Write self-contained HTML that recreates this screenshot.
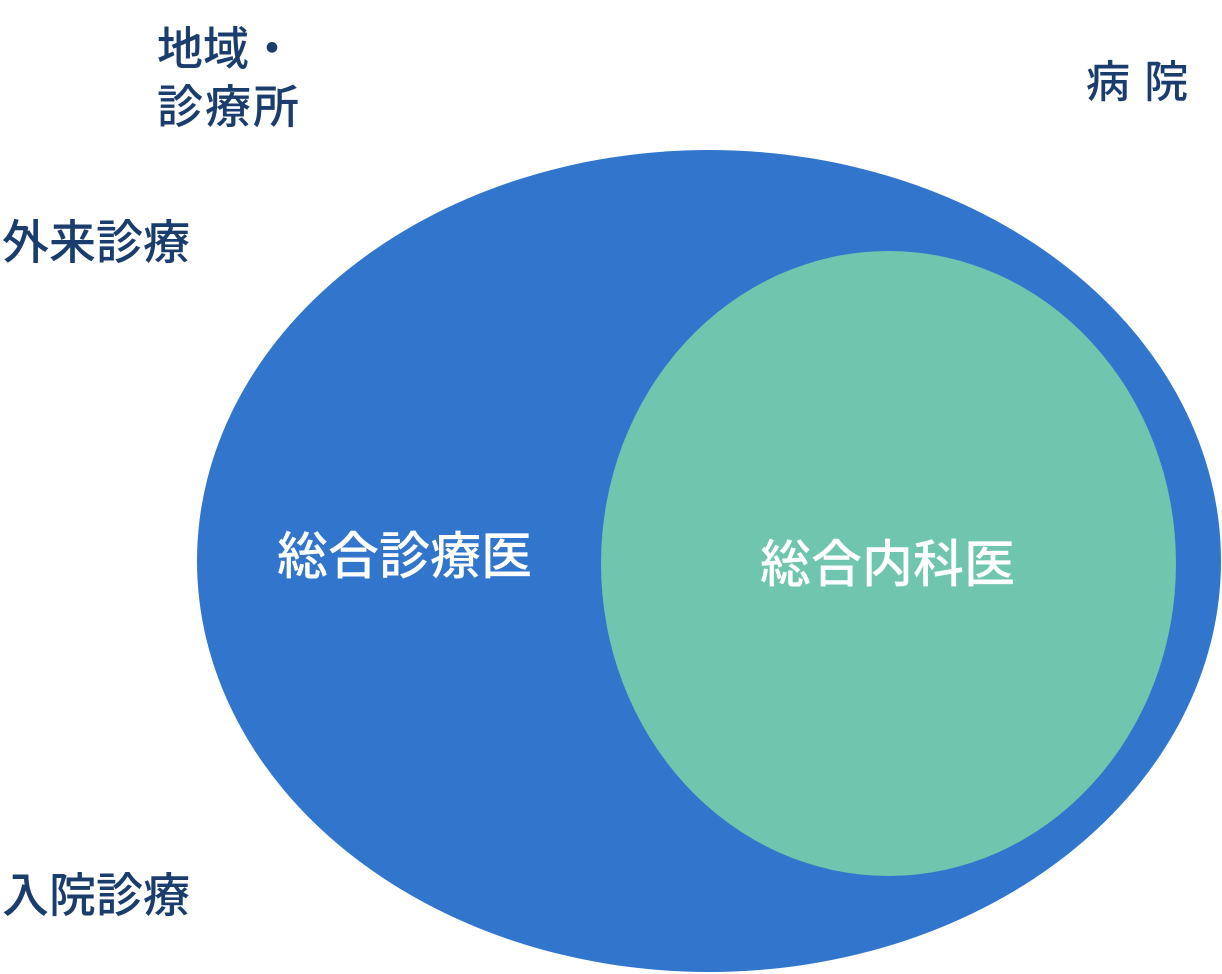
<!DOCTYPE html>
<html><head><meta charset="utf-8"><style>
body{margin:0;width:1222px;height:974px;background:#fff;position:relative;overflow:hidden;font-family:"Liberation Sans","Noto Sans CJK JP",sans-serif;font-weight:500}
.t{position:absolute;color:#1b3d6e;font-size:45px;line-height:1;white-space:nowrap}
.w{position:absolute;color:#fff;font-size:51px;line-height:1;white-space:nowrap}
</style></head><body>
<svg width="1222" height="974" style="position:absolute;left:0;top:0">
<ellipse cx="709" cy="561" rx="512" ry="411" fill="#3176cc"/>
<ellipse cx="888.5" cy="563.5" rx="287.5" ry="312.5" fill="#6fc5ad"/>
</svg>
<div class="t" style="left:157px;top:26px;font-size:46px">地域・</div>
<div class="t" style="left:157px;top:84px;font-size:46px;letter-spacing:2px">診療所</div>
<div class="t" style="left:1086px;top:61px;letter-spacing:1px;font-size:44px">病 院</div>
<div class="t" style="left:2px;top:219px;font-size:47px">外来診療</div>
<div class="t" style="left:2px;top:872px;font-size:47px">入院診療</div>
<div class="w" style="left:277px;top:531px;font-size:51px">総合診療医</div>
<div class="w" style="left:760px;top:539px;font-size:51px">総合内科医</div>
</body></html>
